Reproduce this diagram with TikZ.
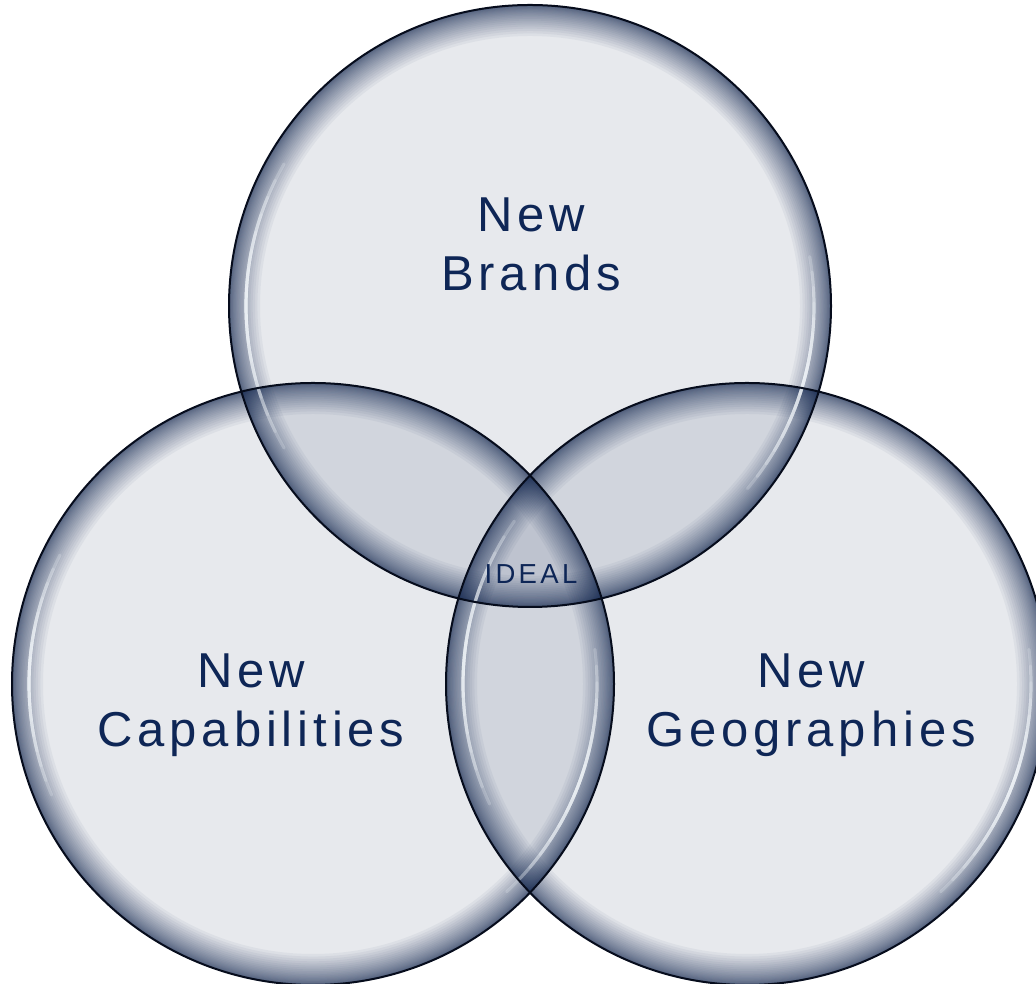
\documentclass[tikz,border=0pt]{standalone}
\usepackage{fontspec}
\setmainfont[LetterSpace=10]{Liberation Sans}
\newfontfamily\idealfont[LetterSpace=12]{Liberation Sans}
\definecolor{navyfill}{RGB}{30,50,90}
\definecolor{glow}{RGB}{24,44,84}
\definecolor{rim}{RGB}{6,12,28}
\definecolor{txt}{RGB}{14,38,86}
\definecolor{hilite}{RGB}{248,252,255}
\tikzset{
  label/.style={font=\fontsize{49}{59}\selectfont, text=txt, align=center, inner sep=0pt, anchor=north},
  smalllabel/.style={font=\idealfont\fontsize{27.5}{30}\selectfont, text=txt, inner sep=0pt, anchor=north},
  glowring/.style={glow, opacity=0.052},
  rimline/.style={rim, line width=2pt},
}
\newcommand{\hlarc}[4]{% cx, cy, mid angle, half span
  \foreach \k in {1,...,8}{
    \pgfmathsetmacro{\sa}{#3-#4*\k/8}
    \pgfmathsetmacro{\ea}{#3+#4*\k/8}
    \draw[hilite, line width=3.2pt, opacity=0.2, line cap=round]
      (#1,#2) ++(\sa:284) arc[start angle=\sa, end angle=\ea, radius=284];
  }
}
\begin{document}
\begin{tikzpicture}[x=1pt,y=1pt]
\useasboundingbox (0,0) rectangle (1036,984);
\clip (0,0) rectangle (1036,984);
\fill[white] (0,0) rectangle (1036,984);
% circle centres
\coordinate (cb) at (530,678);
\coordinate (cc) at (313,300);
\coordinate (cg) at (747,300);
% fills
\foreach \c in {cb,cc,cg}{
  \fill[navyfill, opacity=0.105] (\c) circle[radius=301];
}
% inner glow: nested rings all sharing the outer edge
\foreach \c in {cb,cc,cg}{
  \foreach \k in {1,...,26}{
    \pgfmathsetmacro{\w}{31*(\k/26)^2.2}
    \pgfmathsetmacro{\rr}{301-\w/2}
    \draw[glowring, line width=\w pt] (\c) circle[radius=\rr];
  }
}
% highlights
\hlarc{530}{678}{180}{30}
\hlarc{530}{678}{-15}{25}
\hlarc{313}{300}{178}{25}
\hlarc{313}{300}{-20}{27}
\hlarc{747}{300}{175}{30}
\hlarc{747}{300}{-20}{27}
% rims
\foreach \c in {cb,cc,cg}{
  \draw[rimline] (\c) circle[radius=301];
}
% labels
\node[label] (brands) at (531,786) {New\\Brands};
\node[label] (capab) at (251,330) {New\\Capabilities};
\node[label] (geog) at (811,330) {New\\Geographies};
\node[smalllabel] (ideal) at (531,419.5) {IDEAL};
\end{tikzpicture}
\end{document}
